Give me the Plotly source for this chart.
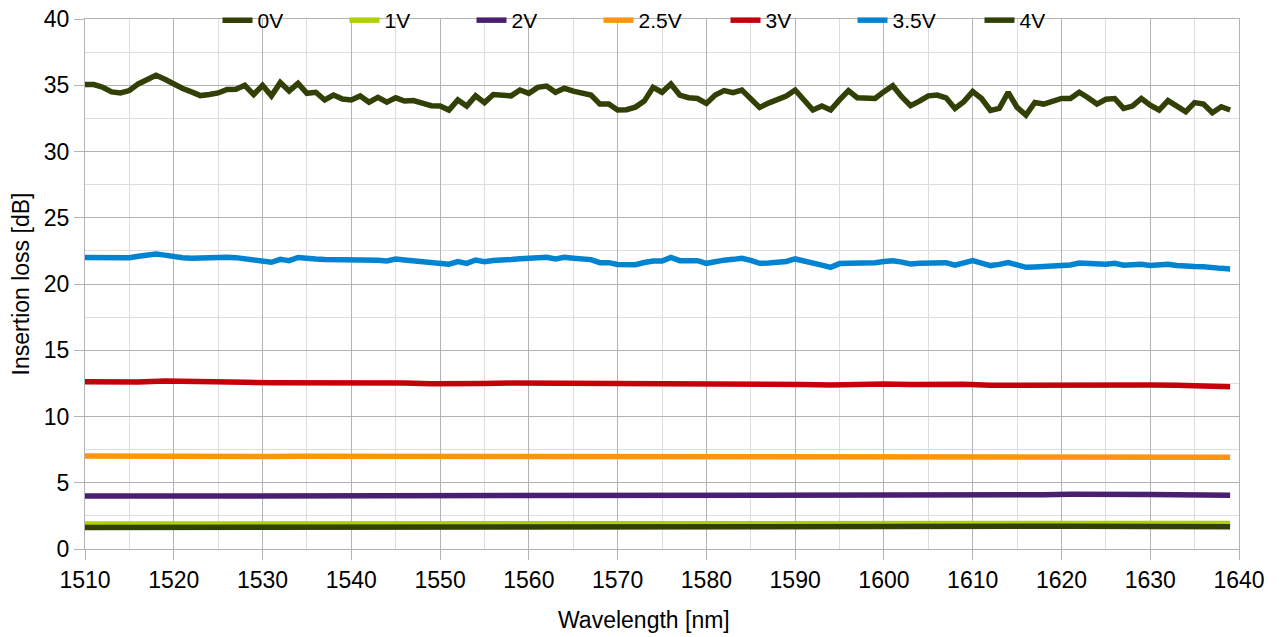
import plotly.graph_objects as go

# ---------------- data ----------------
wavelength_fine = list(range(1510, 1640))          # 1 nm step
wavelength_coarse = list(range(1510, 1640, 3))     # 3 nm step

loss_4v = [
    35.05, 35.05, 34.85, 34.5, 34.42, 34.6, 35.1, 35.45, 35.75, 35.45,
    35.05, 34.75, 34.5, 34.22, 34.3, 34.42, 34.68, 34.7, 35.0, 34.3,
    35.0, 34.2, 35.2, 34.57, 35.14, 34.39, 34.47, 33.89, 34.26, 33.96,
    33.89, 34.19, 33.72, 34.09, 33.72, 34.05, 33.81, 33.84, 33.65, 33.46,
    33.44, 33.13, 33.89, 33.43, 34.2, 33.69, 34.3, 34.3, 34.2, 34.64,
    34.39, 34.84, 34.94, 34.47, 34.77, 34.55, 34.39, 34.26, 33.58, 33.58,
    33.13, 33.15, 33.35, 33.8, 34.84, 34.47, 35.09, 34.26, 34.06, 34.0,
    33.63, 34.26, 34.6, 34.44, 34.64, 34.0, 33.33, 33.65, 33.9, 34.19,
    34.64, 33.94, 33.13, 33.43, 33.13, 33.89, 34.59, 34.06, 34.05, 34.0,
    34.52, 34.97, 34.14, 33.46, 33.8, 34.2, 34.26, 34.05, 33.25, 33.76,
    34.52, 34.0, 33.1, 33.26, 34.47, 33.33, 32.75, 33.7, 33.58, 33.76,
    34.0, 34.0, 34.47, 34.06, 33.58, 33.94, 34.0, 33.26, 33.43, 34.0,
    33.5, 33.13, 33.84, 33.43, 33.0, 33.69, 33.58, 32.93, 33.38, 33.13,
]

loss_3v5 = [
    22.0, 22.0, 21.98, 21.96, 21.94, 21.98, 22.1, 22.2, 22.26, 22.18,
    22.05, 21.98, 21.94, 21.96, 22.0, 22.06, 22.02, 21.99, 21.9, 21.76,
    21.74, 21.64, 21.86, 21.76, 22.0, 21.89, 21.88, 21.84, 21.85, 21.81,
    21.84, 21.86, 21.89, 21.8, 21.74, 21.89, 21.82, 21.76, 21.64, 21.6,
    21.52, 21.49, 21.69, 21.56, 21.81, 21.69, 21.78, 21.86, 21.85, 21.9,
    21.94, 21.96, 22.01, 21.89, 22.01, 21.95, 21.9, 21.84, 21.61, 21.61,
    21.48, 21.42, 21.45, 21.62, 21.74, 21.74, 22.01, 21.76, 21.76, 21.76,
    21.56, 21.72, 21.8, 21.86, 21.94, 21.78, 21.56, 21.58, 21.62, 21.7,
    21.89, 21.7, 21.51, 21.42, 21.26, 21.54, 21.56, 21.56, 21.56, 21.6,
    21.7, 21.76, 21.65, 21.51, 21.56, 21.6, 21.64, 21.61, 21.42, 21.55,
    21.76, 21.58, 21.39, 21.48, 21.61, 21.45, 21.26, 21.29, 21.31, 21.36,
    21.4, 21.44, 21.58, 21.52, 21.46, 21.5, 21.56, 21.42, 21.45, 21.49,
    21.39, 21.44, 21.49, 21.4, 21.31, 21.32, 21.31, 21.2, 21.18, 21.14,
]

loss_3v = [
    12.63, 12.6, 12.6, 12.68, 12.62, 12.6, 12.58, 12.55, 12.56, 12.55,
    12.55, 12.53, 12.52, 12.48, 12.45, 12.5, 12.52, 12.52, 12.5, 12.5,
    12.43, 12.45, 12.5, 12.48, 12.5, 12.47, 12.45, 12.42, 12.38, 12.43,
    12.45, 12.42, 12.44, 12.43, 12.35, 12.37, 12.33, 12.4, 12.43, 12.4,
    12.38, 12.35, 12.3, 12.25,
]

loss_2v5 = [
    7.02, 7.0, 6.98, 7.02, 7.0, 7.0, 7.0, 6.98, 7.0, 7.0,
    6.99, 6.98, 6.97, 6.96, 6.97, 7.0, 7.02, 7.03, 7.03, 7.02,
    7.0, 7.0, 7.02, 7.03, 7.03, 7.02, 7.0, 7.0, 6.97, 6.98,
    7.0, 7.0, 6.98, 6.97, 6.95, 6.95, 6.97, 7.0, 7.03, 7.0,
    7.0, 6.98, 6.96, 6.93,
]

loss_2v = [
    4.0, 3.98, 3.98, 4.0, 4.0, 4.0, 4.0, 4.0, 4.02, 4.02,
    4.02, 4.02, 4.0, 4.02, 4.03, 4.05, 4.07, 4.08, 4.08, 4.07,
    4.07, 4.08, 4.1, 4.1, 4.1, 4.08, 4.08, 4.07, 4.06, 4.07,
    4.09, 4.1, 4.1, 4.08, 4.08, 4.08, 4.1, 4.13, 4.15, 4.13,
    4.12, 4.1, 4.08, 4.05,
]

loss_1v = [
    1.88, 1.88, 1.87, 1.87, 1.88, 1.88, 1.88, 1.89, 1.9, 1.9,
    1.9, 1.91, 1.91, 1.91, 1.92, 1.92, 1.93, 1.93, 1.92, 1.92,
    1.92, 1.92, 1.93, 1.93, 1.93, 1.92, 1.92, 1.92, 1.92, 1.93,
    1.93, 1.93, 1.93, 1.94, 1.95, 1.96, 1.96, 1.96, 1.97, 1.96,
    1.95, 1.95, 1.94, 1.93,
]

loss_0v = [
    1.62, 1.62, 1.61, 1.61, 1.62, 1.62, 1.63, 1.64, 1.64, 1.65,
    1.65, 1.65, 1.64, 1.65, 1.66, 1.67, 1.68, 1.68, 1.67, 1.67,
    1.67, 1.68, 1.7, 1.69, 1.69, 1.68, 1.68, 1.67, 1.68, 1.69,
    1.7, 1.7, 1.69, 1.68, 1.69, 1.7, 1.71, 1.72, 1.73, 1.72,
    1.72, 1.71, 1.7, 1.68,
]

x_ticks = list(range(1510, 1641, 10))
y_ticks = list(range(0, 41, 5))

# (label, x, y, colour, legend rank) -- 0V is drawn after 1V so it sits on top
series = [
    ("1V", wavelength_coarse, loss_1v, "#aecf00", 2),
    ("0V", wavelength_coarse, loss_0v, "#314004", 1),
    ("2V", wavelength_coarse, loss_2v, "#4b1f6f", 3),
    ("2.5V", wavelength_coarse, loss_2v5, "#ff950e", 4),
    ("3V", wavelength_coarse, loss_3v, "#c5000b", 5),
    ("3.5V", wavelength_fine, loss_3v5, "#0084d1", 6),
    ("4V", wavelength_fine, loss_4v, "#314004", 7),
]

fig = go.Figure()
for name, xs, ys, col, rank in series:
    fig.add_trace(go.Scatter(
        x=xs, y=ys, mode="lines", name=name,
        line=dict(color=col, width=5.5), legendrank=rank,
    ))

font_family = "Liberation Sans, Arial, sans-serif"

fig.update_layout(
    width=1285, height=637,
    margin=dict(l=85, r=46, t=19, b=88, autoexpand=False),
    paper_bgcolor="white", plot_bgcolor="white",
    font=dict(family=font_family, color="#000000"),
    showlegend=True,
    legend=dict(
        orientation="h", x=0.5, xanchor="center",
        yref="container", y=1.0, yanchor="top",
        bgcolor="rgba(0,0,0,0)", font=dict(size=21, family=font_family),
        traceorder="normal", entrywidth=82, entrywidthmode="pixels",
    ),
    xaxis=dict(
        range=[1510, 1640], tickvals=x_ticks,
        tickfont=dict(size=23), ticklabeloverflow="allow",
        showgrid=True, gridcolor="#b3b3b3", gridwidth=1,
        minor=dict(dtick=5, showgrid=True, gridcolor="#dddddd", gridwidth=1),
        ticks="outside", ticklen=10, tickcolor="#b3b3b3",
        showline=True, linecolor="#b3b3b3", mirror=True, zeroline=False,
    ),
    yaxis=dict(
        range=[0, 40], tickvals=y_ticks,
        title=dict(text="Insertion loss [dB]", font=dict(size=23), standoff=7),
        tickfont=dict(size=23), ticklabeloverflow="allow",
        showgrid=True, gridcolor="#b3b3b3", gridwidth=1,
        minor=dict(dtick=2.5, showgrid=True, gridcolor="#dddddd", gridwidth=1),
        ticks="outside", ticklen=10, tickcolor="#b3b3b3",
        showline=True, linecolor="#b3b3b3", mirror=True, zeroline=False,
    ),
    annotations=[dict(
        text="Wavelength [nm]", xref="paper", yref="paper",
        x=0.484, y=0, yshift=-71, xanchor="center", yanchor="middle",
        showarrow=False, font=dict(size=23),
    )],
)

fig.write_html(
    "out.html",
    config={"displayModeBar": False},
    post_script="document.body.style.margin='0';document.body.style.overflow='hidden';",
)
